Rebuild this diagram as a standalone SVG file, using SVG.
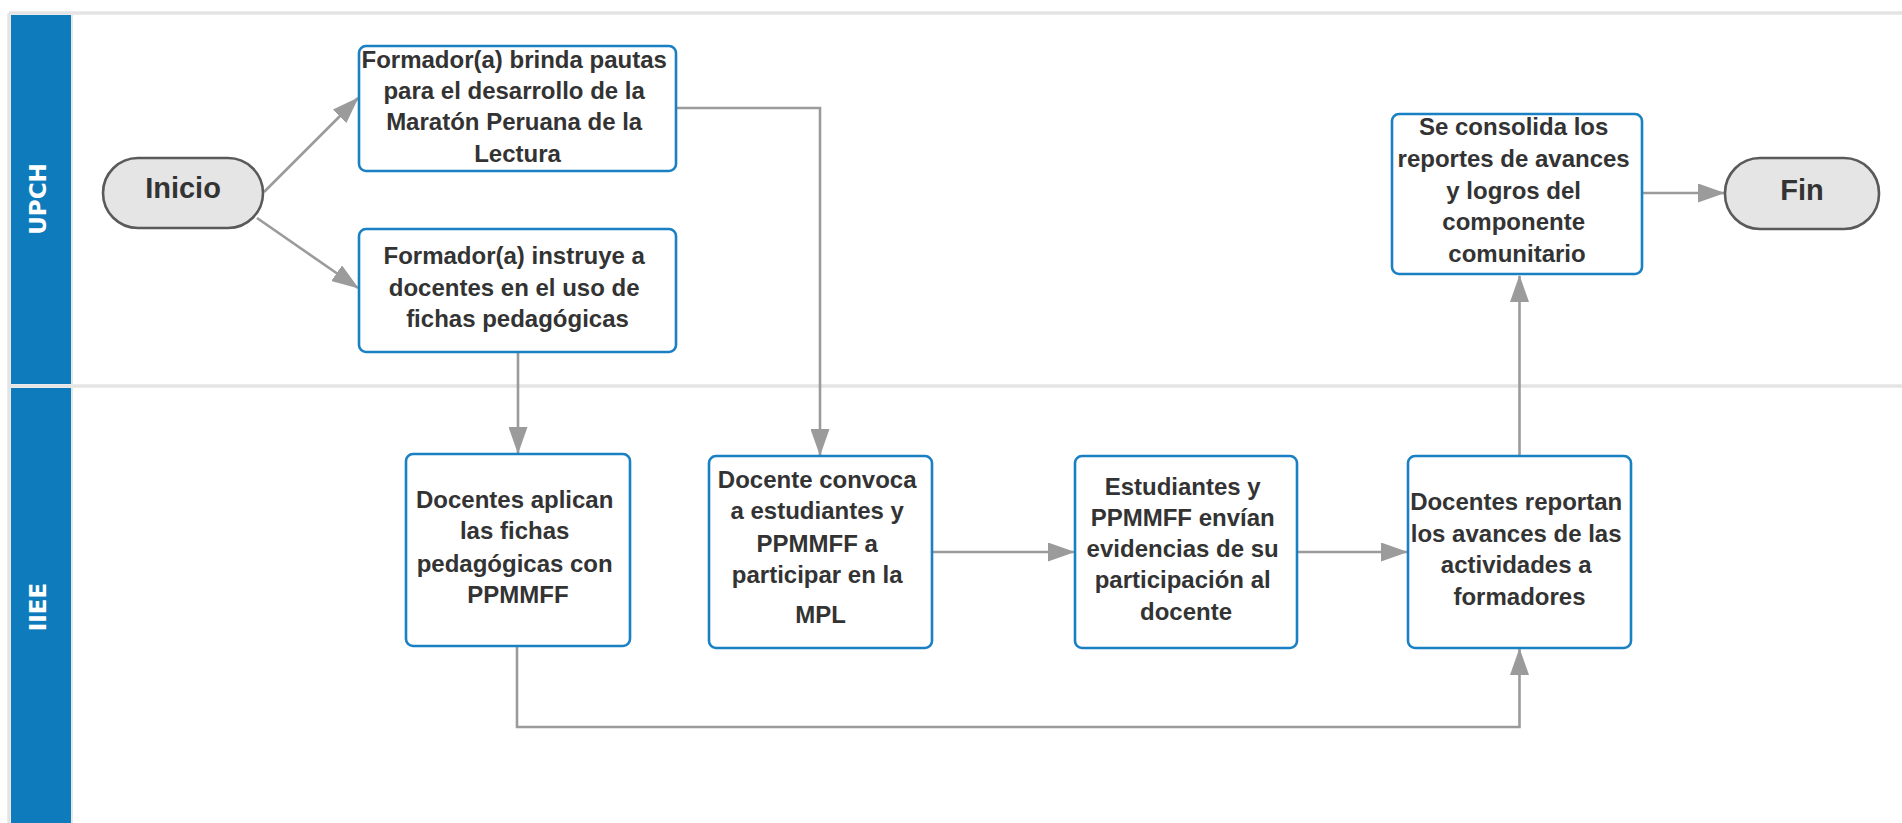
<svg xmlns="http://www.w3.org/2000/svg" width="1902" height="823" viewBox="0 0 1902 823">
  <style>
    .frame { stroke: #e4e4e4; stroke-width: 3.5; fill: none; }
    .lane-head { fill: #0e7bbd; }
    .lane-label { font-family: "DejaVu Sans", "Liberation Sans", sans-serif; font-weight: bold; font-size: 23px; fill: #ffffff; text-anchor: middle; }
    .proc { fill: #ffffff; stroke: #1a80c4; stroke-width: 2.6; }
    .term { fill: #e5e5e5; stroke: #5a5a5a; stroke-width: 2.6; }
    .txt { font-family: "Liberation Sans", Arial, sans-serif; font-weight: bold; font-size: 24px; fill: #333333; text-anchor: middle; }
    .term-txt { font-family: "Liberation Sans", Arial, sans-serif; font-weight: bold; font-size: 29px; fill: #333333; text-anchor: middle; }
    .conn { fill: none; stroke: #9b9b9b; stroke-width: 2.6; marker-end: url(#arrow); }
  </style>
  <defs>
    <marker id="arrow" markerUnits="userSpaceOnUse" markerWidth="27" markerHeight="19" viewBox="0 0 27 19" refX="26" refY="9.5" orient="auto">
      <path d="M0,0 L27,9.5 L0,19 Z" fill="#9b9b9b"/>
    </marker>
  </defs>

  <rect width="1902" height="823" fill="#ffffff"/>

  <!-- swimlane pool -->
  <g id="pool">
    <line class="frame" x1="9" y1="13" x2="1902" y2="13"/>
    <line class="frame" x1="9" y1="13" x2="9" y2="823"/>
    <line class="frame" x1="9" y1="386" x2="1902" y2="386"/>
    <line class="frame" x1="72" y1="13" x2="72" y2="823" style="stroke-width:2;stroke:#e8e8e8"/>
  </g>

  <g id="lane-upch">
    <rect class="lane-head" x="11" y="15" width="60" height="369"/>
    <text class="lane-label" transform="translate(46,199) rotate(-90)">UPCH</text>
  </g>

  <g id="lane-iiee">
    <rect class="lane-head" x="11" y="388" width="60" height="435"/>
    <text class="lane-label" transform="translate(46,607) rotate(-90)">IIEE</text>
  </g>

  <!-- connectors -->
  <g id="connectors">
    <path class="conn" d="M264,192 L358,98"/>
    <path class="conn" d="M257,218 L358,288"/>
    <path class="conn" d="M676,108 H820 V455"/>
    <path class="conn" d="M518,352 V453"/>
    <path class="conn" d="M931,552 H1074"/>
    <path class="conn" d="M1297,552 H1407"/>
    <path class="conn" d="M517,646 V727 H1519.5 V649"/>
    <path class="conn" d="M1519.5,456 V276"/>
    <path class="conn" d="M1642,193 H1724"/>
  </g>

  <!-- nodes -->
  <g id="inicio">
    <rect class="term" x="103" y="158" width="160" height="70" rx="35"/>
    <text class="term-txt" x="183" y="198">Inicio</text>
  </g>

  <g id="brinda-pautas">
    <rect class="proc" x="359" y="46" width="317" height="125" rx="7"/>
    <text class="txt">
      <tspan x="517.5" y="68">Formador(a) brinda pautas</tspan>
      <tspan x="517.5" y="99">para el desarrollo de la</tspan>
      <tspan x="517.5" y="130">Maratón Peruana de la</tspan>
      <tspan x="517.5" y="162">Lectura</tspan>
    </text>
  </g>

  <g id="instruye">
    <rect class="proc" x="359" y="229" width="317" height="123" rx="7"/>
    <text class="txt">
      <tspan x="517.5" y="264">Formador(a) instruye a</tspan>
      <tspan x="517.5" y="296">docentes en el uso de</tspan>
      <tspan x="517.5" y="327">fichas pedagógicas</tspan>
    </text>
  </g>

  <g id="aplican">
    <rect class="proc" x="406" y="454" width="224" height="192" rx="7"/>
    <text class="txt">
      <tspan x="518" y="508">Docentes aplican</tspan>
      <tspan x="518" y="539">las fichas</tspan>
      <tspan x="518" y="572">pedagógicas con</tspan>
      <tspan x="518" y="603">PPMMFF</tspan>
    </text>
  </g>

  <g id="convoca">
    <rect class="proc" x="709" y="456" width="223" height="192" rx="7"/>
    <text class="txt">
      <tspan x="820.5" y="488">Docente convoca</tspan>
      <tspan x="820.5" y="519">a estudiantes y</tspan>
      <tspan x="820.5" y="552">PPMMFF a</tspan>
      <tspan x="820.5" y="583">participar en la</tspan>
      <tspan x="820.5" y="623">MPL</tspan>
    </text>
  </g>

  <g id="envian">
    <rect class="proc" x="1075" y="456" width="222" height="192" rx="7"/>
    <text class="txt">
      <tspan x="1186" y="495">Estudiantes y</tspan>
      <tspan x="1186" y="526">PPMMFF envían</tspan>
      <tspan x="1186" y="557">evidencias de su</tspan>
      <tspan x="1186" y="588">participación al</tspan>
      <tspan x="1186" y="620">docente</tspan>
    </text>
  </g>

  <g id="reportan">
    <rect class="proc" x="1408" y="456" width="223" height="192" rx="7"/>
    <text class="txt">
      <tspan x="1519.5" y="510">Docentes reportan</tspan>
      <tspan x="1519.5" y="542">los avances de las</tspan>
      <tspan x="1519.5" y="573">actividades a</tspan>
      <tspan x="1519.5" y="605">formadores</tspan>
    </text>
  </g>

  <g id="consolida">
    <rect class="proc" x="1392" y="114" width="250" height="160" rx="7"/>
    <text class="txt">
      <tspan x="1517" y="135">Se consolida los</tspan>
      <tspan x="1517" y="167">reportes de avances</tspan>
      <tspan x="1517" y="199">y logros del</tspan>
      <tspan x="1517" y="230">componente</tspan>
      <tspan x="1517" y="262">comunitario</tspan>
    </text>
  </g>

  <g id="fin">
    <rect class="term" x="1725" y="158" width="154" height="71" rx="35"/>
    <text class="term-txt" x="1802" y="200">Fin</text>
  </g>
</svg>
